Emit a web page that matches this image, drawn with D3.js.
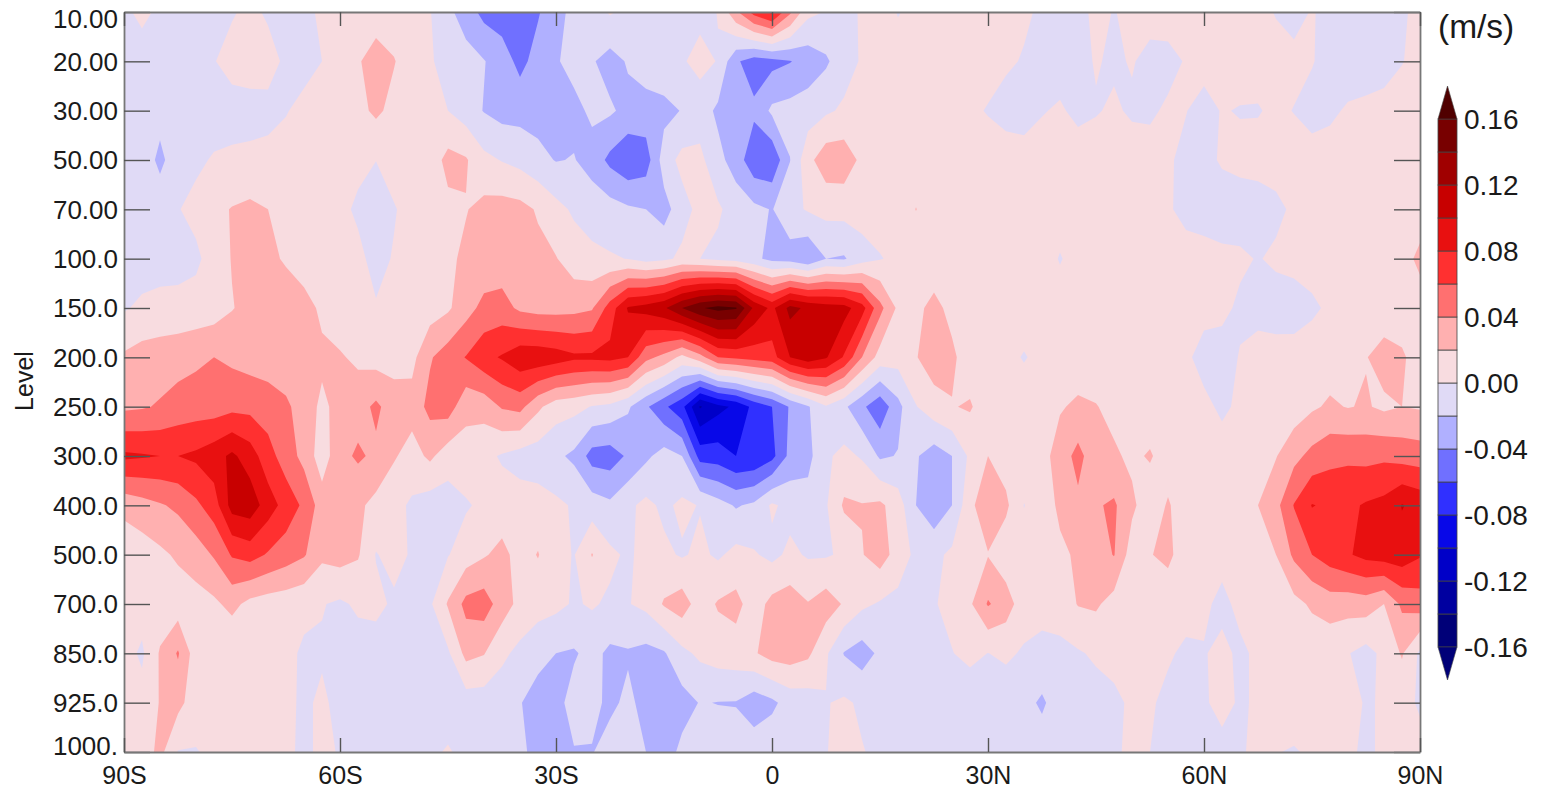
<!DOCTYPE html>
<html>
<head>
<meta charset="utf-8">
<script src="https://cdn.jsdelivr.net/npm/d3@7"></script>
<style>
  html, body { margin: 0; padding: 0; background: #fff; }
  text { font-family: "Liberation Sans", Arial, sans-serif; fill: #1a1a1a; }
</style>
</head>
<body>
<div id="chart"></div>
<script>
// level labels, top to bottom
var levels = ["10.00","20.00","30.00","50.00","70.00","100.0","150.0","200.0","250.0","300.0","400.0","500.0","700.0","850.0","925.0","1000."];
var latTicks = [-90,-60,-30,0,30,60,90];
var latLabels = ["90S","60S","30S","0","30N","60N","90N"];
var cbLabels = ["0.16","0.12","0.08","0.04","0.00","-0.04","-0.08","-0.12","-0.16"];

// contour levels and fills, in 0.01 m/s
var thresholds = [-16,-14,-12,-10,-8,-6,-4,-2,0,2,4,6,8,10,12,14,16];
var fills = ["#000078","#0000a0","#0000c8","#0808e8","#3030ff","#7070ff","#b0b0ff","#e0daf6","#f8dce0","#ffb0b0","#ff7070","#ff3030","#e81010","#c80000","#a00000","#780000","#500000"];

// one row per level, one value per 2.5 deg from 90S to 90N, in 0.01 m/s
var lev10 = [-.5,.6,-.5,-1,-1,-.8,-.2,.5,-.3,-.8,
  -.6,.4,.6,.8,1,1,.8,.1,-1.5,-3,
  -4.6,-5,-4.8,-4.2,-2.6,-1.5,-.8,.2,-.5,-.6,
  -.6,-.6,-.5,.05,3.6,6.8,8.5,4.4,.5,-.1,
  -.6,.2,.8,-.1,.5,.6,.6,.6,.6,.5,
  .2,-.2,-.6,-.4,.3,-.05,.3,.5,.6,.6,
  .5,.1,.1,.5,-.1,-.5,.1,-.4,-.8,-.9,
  -.8,-.2,.4];
var lev20 = [-1,-1.2,-1.2,-1.2,-.8,-.1,.8,1,.8,-.4,
  -.6,0,.8,1.8,2.9,2.1,1,.2,-.7,-1.2,
  -1.9,-3,-4.6,-3.2,-2.2,-1.3,-1.8,-2.8,-1.8,-1,
  -.6,-.2,.6,-.1,-3.7,-5,-4.6,-4.1,-3.2,-2.3,
  -.8,.2,.6,.8,.8,.8,.8,.8,.6,.2,
  -.1,-.6,-.7,-.4,.1,-.2,.1,-.4,-.4,.1,
  .6,.8,.8,.6,.6,.4,.1,-.6,-.9,-.9,
  -.7,-.05,.4];
var lev30 = [-1,-1.2,-1.4,-1.2,-1.2,-1,-.9,-.8,-.6,-.1,
  .5,.8,.9,1.4,2.4,1.4,1,.5,0,-1,
  -2.1,-2.7,-2.7,-2.8,-2.8,-2.6,-1.6,-1.7,-2.6,-2.8,
  -2.6,-1.9,-1,-2.4,-3.3,-3.6,-1.6,-1.3,-1,-.3,
  .3,.6,.8,.8,.8,.8,.6,.3,-.1,-.5,
  -.5,-.1,.2,-.4,-.1,.2,-.2,-.2,.2,.05,
  -.6,.1,-.1,-.1,.3,-.05,-.6,-.3,.2,.4,
  .6,.6,.6];
var lev50 = [-.9,-1,-2.4,-1,-.4,.2,.4,.5,.6,.7,
  .8,.9,.8,.3,.02,.6,.8,.9,2.6,2.2,
  .5,-.1,-.6,-1.4,-2.1,-1.9,-2.8,-4.5,-5.6,-5,
  -1,.6,.5,-1.4,-2.9,-5.4,-5.6,-2.05,1.4,3.2,
  3.2,1.5,.8,.8,.8,.8,.8,.8,.8,.7,
  .5,.7,.8,.8,.7,.7,.7,.5,.2,-.4,
  -.5,.2,.5,.6,.7,.7,.7,.7,.7,.7,
  .7,.7,.7];
var lev70 = [-.9,-1,-1,-.1,.6,1.5,2.1,2.4,2,1.2,
  .8,.6,.3,-.2,-.7,-.1,.5,.7,1.5,1.9,
  2.6,2.8,2.6,1.8,.6,-.3,-.9,-1.2,-1.7,-2,
  -2.8,-.8,.6,.3,-.9,-1.5,-2.1,-.6,.2,.6,
  .7,.8,.8,.8,2.05,.8,.7,.4,.3,.6,
  .7,.2,.7,.8,.8,.8,.8,.4,.2,-.5,
  -.7,-.9,-.9,-.8,-.4,.3,.6,.7,.7,.7,
  .7,.7,.7];
var lev100 = [-.9,-1,-.8,-.8,-.4,.9,2.1,2.7,2.4,1.8,
  .9,.7,.6,.3,-.4,.1,.6,.9,1.6,2.4,
  2.6,2.8,2.7,2.5,2.1,1,.5,.2,-.05,-.7,
  -.4,.4,0,-.5,-.8,-1.5,-2.6,-2.9,-3.8,-2,
  -2.2,-.8,-.1,.4,.6,.7,.7,.7,.7,.7,
  .7,.7,-.1,.6,.7,.7,.7,.7,.7,.7,
  .6,.4,.3,-.1,.3,.6,.7,.8,.8,.9,
  1.5,1,2.6];
var lev150 = [-.2,.4,.6,.7,.8,1,1.9,2.6,2.8,3,
  2.8,1.6,.8,.2,.1,.4,.8,1,1.7,3.2,
  4.6,4.8,3.6,3.2,3.2,3.4,3.8,6.9,10.2,10.8,
  11.7,14,15.8,16.6,16.2,11.6,9.5,12.6,11.6,11,
  10.8,8.8,4.6,1.6,1.5,2.6,1.4,.8,.7,.7,
  .7,.7,.7,.7,.7,.7,.7,.7,.6,.6,
  .5,.4,-.3,-.5,-.8,-.9,-.3,.3,.6,.7,
  .7,.8,.8];
var lev200 = [2.3,2.8,3,3.2,3.6,4,3.6,3.2,3,2.6,
  2.1,2.4,2.2,1.6,1.2,1.2,1.4,3.8,5,6.1,
  7.4,8.2,9.4,9.4,9,8.4,8.4,8.6,8,4.6,
  3.4,1.4,3.2,6,6.4,6.8,7.2,10,11.2,10.2,
  7.8,4,1.2,.8,1.9,3,2.4,.9,.7,.4,
  -.1,.4,.6,.7,.7,.7,.6,.6,.5,.3,
  -.6,-.7,.1,.6,.7,.8,.9,1,1.4,1.9,
  2.9,2.3,1];
var lev250 = [3.6,3.8,4.2,4.8,5,5,5.4,5.4,5,4.4,
  3,1.6,2.6,3.2,4.4,3,2.8,4.6,5,2.6,
  2.8,4.2,4.6,2.4,.9,.6,-.1,-.5,-1.7,-3.7,
  -5.6,-7.4,-12.2,-10.6,-9.6,-7.4,-6,-3.8,-2.2,-.2,
  -1.6,-3.6,-5.4,-2.6,-.1,1.2,1.9,2.2,.9,.8,
  .8,.8,1.8,2.4,2.1,1.4,.8,.8,.7,.7,
  .4,-.3,.3,.6,.7,.9,1.7,2.3,1.9,2.2,
  1.6,2,1.8];
var lev300 = [8.4,8.2,8,8,8.4,9.2,10.4,9,6.8,5,
  3.4,.9,3.4,4.3,3.6,2.2,1.2,2.4,.9,1.1,
  .5,-.2,-.8,-1,-1.6,-2.4,-4.8,-5,-3.7,-2.4,
  -1.2,-2,-6.8,-7,-8,-7.8,-6.6,-3.4,-2.6,-.3,
  .5,-.2,-2.3,-1.9,-1.8,-3,-2,.4,2,1.1,
  1,1.2,3,4.6,2.8,2.3,1.6,2.2,1,.8,
  .7,.7,.8,1,1.9,3.4,4.6,5.4,5.6,5.4,
  5.6,5.2,5];
var lev400 = [2.6,3.2,3.8,4.4,5.6,7,10.8,11.2,9,7.2,
  5.6,3,2.8,2.4,1.4,.6,-.3,-1,-.9,-.2,
  .4,.8,.9,.8,.4,-.2,-1,-1.6,-.4,.5,
  -.4,.4,-.1,-1.2,-2.2,-1.6,.3,-.6,-1.2,-.2,
  2.3,2.1,2.4,1,-2,-3.4,-2,1.5,3.4,2.4,
  -.05,.9,2.4,3.6,3.8,4.3,2.4,.8,2.2,.9,
  .7,.8,1,2,3.4,6.1,8.1,7.6,7.6,8.2,
  8.6,10.1,9.4];
var lev500 = [.6,1,1.6,2.3,3,4.2,6.2,6.8,5.8,5,
  4.2,2.4,2.8,2.2,-.1,.6,-.2,-.8,-.1,1,
  1.8,2.6,1.2,2.1,.6,-.1,2.1,.4,-.3,.6,
  .4,-.2,.4,-.3,.6,.2,-.5,.4,-.2,-.2,
  .3,1.9,2.9,1.2,-.5,-.5,.4,1,1.9,.7,
  .8,1,1.6,2.3,3,4.1,1,1.9,2.5,.8,
  .6,.5,.7,1.3,2,4.4,6,7,7.8,8.6,
  9,9.2,8.2];
var lev700 = [.6,.8,.8,.9,1.2,1.6,2.6,1.4,1,.8,
  .5,.1,-.3,.3,.5,-.3,-.6,-.3,2.2,4.6,
  5,3,1.4,.8,.5,-.2,.2,-.3,-.1,.5,
  2.2,3,1,2.2,2.6,1,2.6,3,2.1,3,
  1.8,.4,-.2,-.6,-.9,-.1,.4,1.7,4.2,3,
  .8,.7,.9,2.1,2.3,1.2,.9,.8,.7,.6,
  .3,-.4,.4,.6,.8,1.4,2.3,3,2.8,3,
  2,4.4,5];
var lev850 = [.7,-.3,2.2,4.2,.9,.5,.1,.6,.7,.5,
  -.3,-.2,-.7,-.8,-.9,-.9,-.9,-1,-.3,2.6,
  2.1,.4,-.5,-1.4,-2,-2.2,-1.4,-2.4,-2.2,-2.6,
  -2.2,-.5,.4,.9,1.1,1.8,2.8,3,2.4,.3,
  -2.1,-2.9,-1.6,-.9,-.8,-.5,-.05,.4,-.02,.3,
  -.2,-.6,-.5,-.2,.3,.6,.4,.4,.2,-.3,
  -.1,.4,-.3,.3,.6,.7,.7,.5,.1,-.7,
  .5,2.2,-.4];
var lev925 = [.6,.7,2.1,2.6,.9,.5,.1,.4,.5,.4,
  -.3,.3,-.5,-.9,-.9,-1,-1,-1.1,-1.1,-1,
  -1,-1.1,-1.9,-2.8,-2.6,-1.3,-1.5,-2.4,-1.6,-2.6,
  -2.9,-2.8,-1.9,-2.05,-2.1,-3.1,-2.4,-1.2,-1,-.1,
  .3,-.3,-.9,-1,-1,-1,-1,-1,-1,-1,
  -1.4,-2.3,-1,-.9,-.8,-.4,.3,.2,-.4,-.6,
  -.2,.5,-.2,.2,.6,.7,.7,.6,.4,-.1,
  .1,.5,-.2];
var lev1000 = [.6,.8,2.6,-.1,-.1,.4,.5,.6,.6,.3,
  -.3,.3,-.1,-.6,-.8,-.9,-.9,-.4,.2,-.6,
  -1,-1.2,-1.6,-2.6,-2.6,-2.1,-2.1,-1.2,-1.4,-2,
  -3,-1.5,-1,-1,-1,-.9,-.7,-.6,-.3,-.05,
  .4,.1,-.4,-.6,-1,-1,-.9,-.9,-1,-1,
  -1,-1,-1,-.9,-.7,-.3,.4,0,-.2,-.6,
  -.7,-.5,-.1,.2,.05,-.1,.2,.5,.3,-.3,
  .3,.6,.5];

var rows = [lev10,lev20,lev30,lev50,lev70,lev100,lev150,lev200,lev250,lev300,lev400,lev500,lev700,lev850,lev925,lev1000];
var nx = 73, ny = rows.length;
rows.forEach(function (r, i) {
  if (r.length != nx) throw new Error("row " + levels[i] + " has " + r.length);
});
var grid = [].concat.apply([], rows);

var svg = d3.select("#chart").append("svg")
  .attr("width", 1545)
  .attr("height", 791)
  .style("display", "block");

var plotL = 124, plotR = 1420, plotT = 12, plotB = 752;

var x = d3.scaleLinear().domain([-90, 90]).range([plotL, plotR]);
var y = d3.scalePoint().domain(levels).range([plotT, plotB]);

svg.append("clipPath").attr("id", "plot")
  .append("rect")
  .attr("x", plotL).attr("y", plotT)
  .attr("width", plotR - plotL).attr("height", plotB - plotT);

// grid sample (i, j) sits at (i + .5, j + .5) in d3.contours output
var project = d3.geoTransform({
  point: function (gx, gy) {
    this.stream.point(x(-90 + 2.5 * (gx - .5)), plotT + y.step() * (gy - .5));
  }
});
var path = d3.geoPath(project);

var bands = d3.contours().size([nx, ny]).thresholds(thresholds)(grid);

svg.append("g").attr("clip-path", "url(#plot)")
  .selectAll("path")
  .data(bands)
  .enter().append("path")
  .attr("d", path)
  .attr("fill", function (d, i) { return fills[i]; });

// axes
function styleAxis(g, size) {
  g.selectAll(".domain").attr("stroke", "#777").attr("stroke-width", 1.8);
  g.selectAll(".tick line").attr("stroke", "#555").attr("stroke-width", 1.4);
  g.selectAll("text").attr("font-size", size).attr("fill", "#1a1a1a")
    .style("font-family", '"Liberation Sans", Arial, sans-serif');
}

var yLeft = svg.append("g").attr("transform", "translate(" + plotL + ",0)")
  .call(d3.axisLeft(y).tickSize(-26).tickSizeOuter(0).tickPadding(6))
  .call(styleAxis, 26);
yLeft.selectAll("text").attr("dy", function (d) {
  if (d == "10.00") return ".6em";
  if (d == "1000.") return "0.1em";
  return ".34em";
});

svg.append("g").attr("transform", "translate(" + plotR + ",0)")
  .call(d3.axisRight(y).tickSize(-26).tickSizeOuter(0).tickFormat(""))
  .call(styleAxis, 26);

svg.append("g").attr("transform", "translate(0," + plotB + ")")
  .call(d3.axisBottom(x).tickValues(latTicks).tickSize(-14).tickSizeOuter(0).tickPadding(14)
    .tickFormat(function (d, i) { return latLabels[i]; }))
  .call(styleAxis, 25);

svg.append("g").attr("transform", "translate(0," + plotT + ")")
  .call(d3.axisTop(x).tickValues(latTicks).tickSize(-14).tickSizeOuter(0).tickFormat(""))
  .call(styleAxis, 25);

svg.append("text")
  .attr("transform", "translate(33,381)rotate(-90)")
  .attr("text-anchor", "middle")
  .attr("font-size", 25)
  .text("Level");

// colorbar
var cbX = 1438, cbW = 19;
var cb = d3.scaleLinear().domain([16, -16]).range([119, 647]);

var cbG = svg.append("g");
d3.range(thresholds.length - 1).forEach(function (i) {
  cbG.append("rect")
    .attr("x", cbX).attr("width", cbW)
    .attr("y", cb(thresholds[i + 1])).attr("height", cb(thresholds[i]) - cb(thresholds[i + 1]))
    .attr("fill", fills[i])
    .attr("stroke", "#444").attr("stroke-width", .8);
});
var arrow = 33;
cbG.append("path")
  .attr("d", "M" + cbX + "," + cb(16) + "L" + (cbX + cbW / 2) + "," + (cb(16) - arrow) + "L" + (cbX + cbW) + "," + cb(16) + "Z")
  .attr("fill", fills[fills.length - 1]).attr("stroke", "#444").attr("stroke-width", .6);
cbG.append("path")
  .attr("d", "M" + cbX + "," + cb(-16) + "L" + (cbX + cbW / 2) + "," + (cb(-16) + arrow) + "L" + (cbX + cbW) + "," + cb(-16) + "Z")
  .attr("fill", fills[0]).attr("stroke", "#444").attr("stroke-width", .6);

cbLabels.forEach(function (t) {
  svg.append("text")
    .attr("x", 1464)
    .attr("y", cb(+t * 100))
    .attr("dy", ".35em")
    .attr("font-size", 28)
    .text(t);
});

svg.append("text")
  .attr("x", 1438).attr("y", 38)
  .attr("font-size", 33.5)
  .text("(m/s)");
</script>
</body>
</html>
